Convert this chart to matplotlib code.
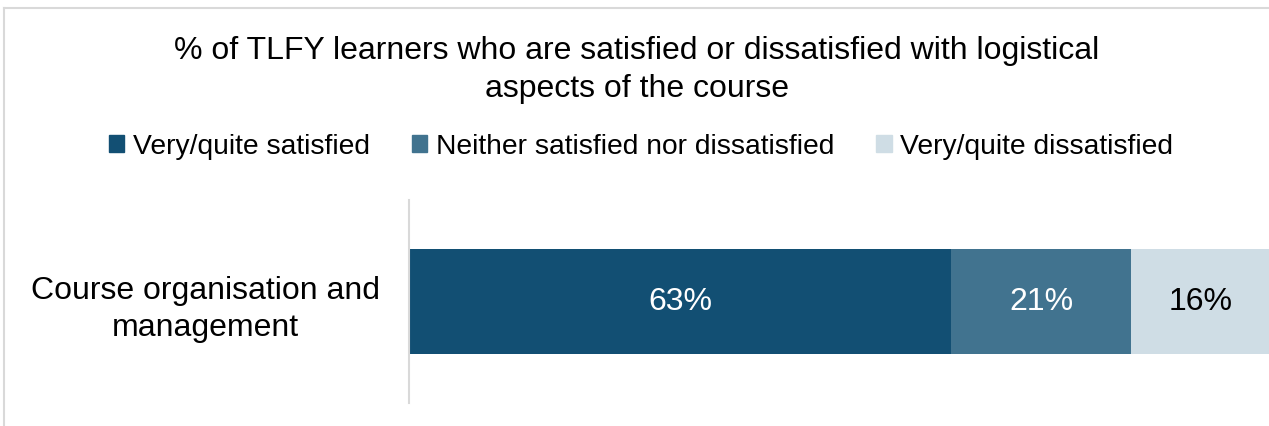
import matplotlib
matplotlib.use("Agg")
import matplotlib.pyplot as plt
from matplotlib.lines import Line2D

plt.rcParams["font.family"] = ["Liberation Sans", "DejaVu Sans"]

categories = ["Course organisation and\nmanagement"]
series_names = ["Very/quite satisfied", "Neither satisfied nor dissatisfied", "Very/quite dissatisfied"]
satisfied = [63]
neither = [21]
dissatisfied = [16]
series_values = [satisfied, neither, dissatisfied]
colors = ["#124f73", "#41738f", "#cfdde5"]
label_colors = ["white", "white", "black"]

W, H = 1269, 427
fig = plt.figure(figsize=(W / 100, H / 100), dpi=100)

# chart frame (top and left edges visible)
fig.add_artist(Line2D([4 / W, 4 / W], [0, 1 - 9 / H], transform=fig.transFigure,
                      color="#d9d9d9", lw=1.5))
fig.add_artist(Line2D([4 / W, 1], [1 - 9 / H, 1 - 9 / H], transform=fig.transFigure,
                      color="#d9d9d9", lw=1.5))

ax = fig.add_axes([409 / W, 1 - 404 / H, (W - 409) / W, (404 - 201) / H])

left = [0] * len(categories)
for name, vals, col, lc in zip(series_names, series_values, colors, label_colors):
    bars = ax.barh(range(len(categories)), vals, left=left, height=0.52,
                   color=col, label=name)
    for b, v in zip(bars, vals):
        ax.text(b.get_x() + b.get_width() / 2, b.get_y() + b.get_height() / 2,
                f"{v}%", ha="center", va="center", color=lc, fontsize=23)
    left = [l + v for l, v in zip(left, vals)]

ax.set_xlim(0, 100)
ax.set_ylim(-0.5, 0.5)
ax.set_yticks(range(len(categories)))
ax.set_yticklabels(categories, fontsize=23, multialignment="center", linespacing=1.3)
ax.tick_params(axis="y", length=0, pad=21)
ax.set_xticks([])
for s in ["top", "right", "bottom"]:
    ax.spines[s].set_visible(False)
ax.spines["left"].set_color("#d9d9d9")
ax.spines["left"].set_linewidth(1.5)

fig.text(637 / W, 1 - 70 / H,
         "% of TLFY learners who are satisfied or dissatisfied with logistical\naspects of the course",
         ha="center", va="center", fontsize=23, linespacing=1.32)

handles = [plt.Rectangle((0, 0), 1, 1, color=c) for c in colors]
fig.legend(handles, series_names, loc="center", bbox_to_anchor=(641 / W, 1 - 147 / H),
           ncol=3, frameon=False, fontsize=20.3, handlelength=0.55, handleheight=0.55,
           handletextpad=0.3, columnspacing=1.5)

fig.savefig("out.png", dpi=100)
